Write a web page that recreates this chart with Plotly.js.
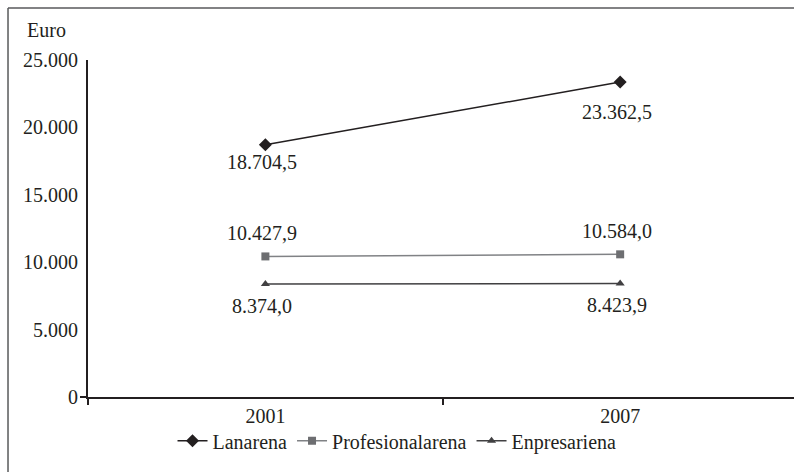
<!DOCTYPE html>
<html>
<head>
<meta charset="utf-8">
<script src="https://cdn.plot.ly/plotly-3.0.1.min.js"></script>
<style>
  html, body { margin: 0; padding: 0; background: #fff; }
  #chart { width: 794px; height: 472px; }
</style>
</head>
<body>
<div id="chart"></div>
<script>
// ---- data ----
const years = ['2001', '2007'];
const seriesNames = ['Lanarena', 'Profesionalarena', 'Enpresariena'];
const lanarena = [18704.5, 23362.5];
const profesionalarena = [10427.9, 10584.0];
const enpresariena = [8374.0, 8423.9];
const yTicks = [0, 5000, 10000, 15000, 20000, 25000];

// ---- styles ----
const FONT = 'Liberation Serif, serif';
const FS = 20;
const styles = [
  { color: '#231f20', lineColor: '#231f20', symbol: 'diamond', size: 10, shifts: [-17, -30] },
  { color: '#6d6e71', lineColor: '#808285', symbol: 'square', size: 8, shifts: [23, 23] },
  { color: '#414042', lineColor: '#414042', symbol: 'triangle-up', size: 8, shifts: [-22, -22] }
];
const seriesValues = [lanarena, profesionalarena, enpresariena];
const xIdx = years.map((_, i) => i);

function fmt(v) {
  const parts = v.toFixed(1).split('.');
  const intPart = parts[0].replace(/\B(?=(\d{3})+(?!\d))/g, '.');
  return intPart + ',' + parts[1];
}

const traces = seriesNames.map((name, s) => ({
  type: 'scatter',
  mode: 'lines+markers',
  name: name,
  x: xIdx,
  y: seriesValues[s],
  line: { color: styles[s].lineColor, width: 1.5 },
  marker: { color: styles[s].color, symbol: styles[s].symbol, size: styles[s].size },
  hoverinfo: 'skip'
}));

const annotations = [];
seriesValues.forEach((vals, s) => {
  vals.forEach((v, i) => {
    annotations.push({
      xref: 'x', yref: 'y', x: xIdx[i], y: v,
      text: fmt(v), showarrow: false,
      xshift: -3, yshift: styles[s].shifts[i],
      font: { family: FONT, size: FS, color: '#231f20' }
    });
  });
});
annotations.push({
  xref: 'paper', yref: 'paper', x: -0.0892, y: 1.089,
  xanchor: 'left', yanchor: 'middle', showarrow: false,
  text: 'Euro', font: { family: FONT, size: FS, color: '#231f20' }
});

const layout = {
  width: 794, height: 472,
  margin: { l: 88, r: 0, t: 60, b: 75, pad: 0, autoexpand: false },
  paper_bgcolor: '#fff', plot_bgcolor: '#fff',
  separators: ',.',
  font: { family: FONT, size: FS, color: '#231f20' },
  showlegend: true,
  legend: {
    orientation: 'h', x: 0.4377, xanchor: 'center',
    y: -0.13, yanchor: 'middle',
    font: { family: FONT, size: FS, color: '#231f20' },
    itemwidth: 30, tracegroupgap: 0, bgcolor: 'rgba(0,0,0,0)'
  },
  xaxis: {
    range: [-0.5, 1.49],
    tickmode: 'array', tickvals: xIdx, ticktext: years,
    ticks: '', showgrid: false, zeroline: false,
    showline: true, linecolor: '#231f20', linewidth: 2,
    minor: { tickmode: 'array', tickvals: [-0.5, 0.5], ticks: 'outside', ticklen: 6, tickwidth: 2, tickcolor: '#231f20', showgrid: false },
    tickfont: { family: FONT, size: FS, color: '#231f20' },
    automargin: false
  },
  yaxis: {
    range: [0, 25000],
    tickmode: 'array', tickvals: yTicks, tickformat: ',d',
    ticks: '', showgrid: false, zeroline: false,
    showline: true, linecolor: '#231f20', linewidth: 2,
    minor: { tickmode: 'array', tickvals: [0], ticks: 'outside', ticklen: 6, tickwidth: 2, tickcolor: '#231f20', showgrid: false },
    tickfont: { family: FONT, size: FS, color: '#231f20' },
    ticklabelstandoff: 4,
    automargin: false
  },
  shapes: [
    { type: 'line', xref: 'paper', yref: 'paper', x0: -0.1133, x1: -0.1133, y0: -0.4, y1: 1.1543, line: { color: '#58595b', width: 1.5 } },
    { type: 'line', xref: 'paper', yref: 'paper', x0: -0.1133, x1: 1.2, y0: 1.1543, y1: 1.1543, line: { color: '#58595b', width: 1.5 } }
  ],
  annotations: annotations
};

Plotly.newPlot('chart', traces, layout, { staticPlot: true, displayModeBar: false });
</script>
</body>
</html>
